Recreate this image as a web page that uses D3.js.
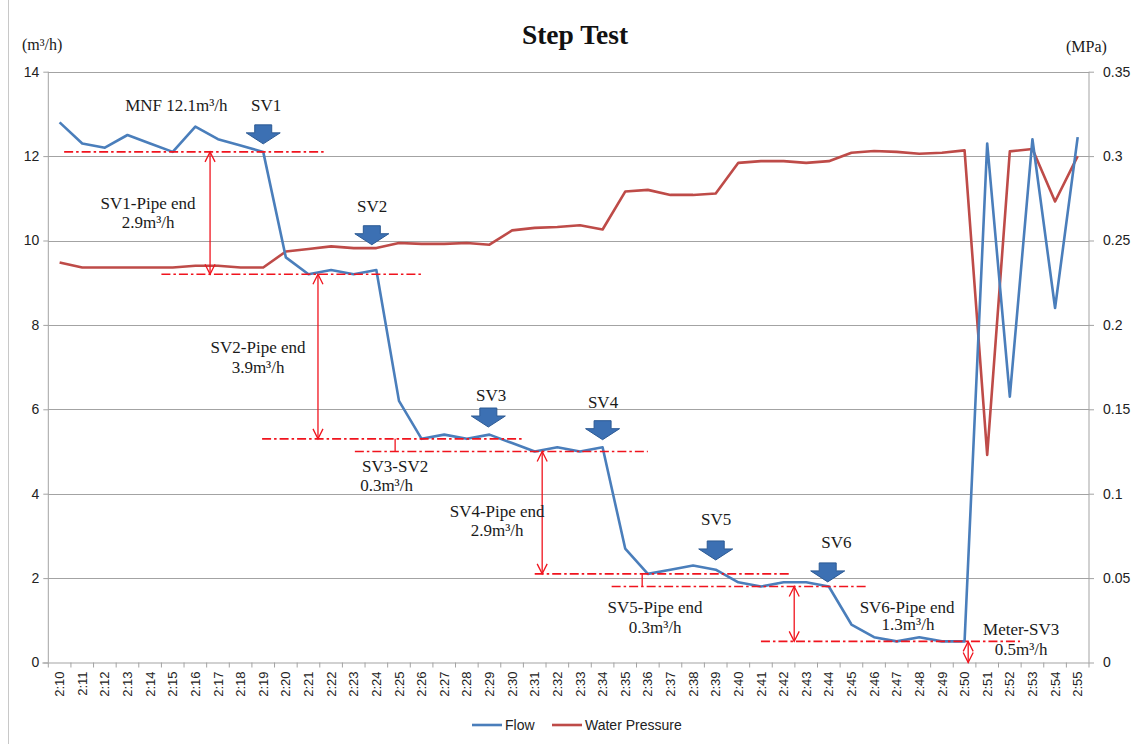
<!DOCTYPE html>
<html>
<head>
<meta charset="utf-8">
<script src="https://cdn.jsdelivr.net/npm/d3@7"></script>
<style>
  html, body { margin: 0; padding: 0; background: #fff; }
  svg { display: block; }
</style>
</head>
<body>
<svg id="chart" width="1134" height="744"></svg>
<script>
// Minute-by-minute readings of the step test
const categories = ["2:10","2:11","2:12","2:13","2:14","2:15","2:16","2:17","2:18","2:19",
  "2:20","2:21","2:22","2:23","2:24","2:25","2:26","2:27","2:28","2:29",
  "2:30","2:31","2:32","2:33","2:34","2:35","2:36","2:37","2:38","2:39",
  "2:40","2:41","2:42","2:43","2:44","2:45","2:46","2:47","2:48","2:49",
  "2:50","2:51","2:52","2:53","2:54","2:55"];

// Flow (m³/h)
const flow = [12.8,12.3,12.2,12.5,12.3,12.1,12.7,12.4,12.25,12.1,
  9.6,9.2,9.3,9.2,9.3,
  6.2,5.3,5.4,5.3,5.4,
  5.2,5.0,5.1,5.0,5.1,
  2.7,2.1,2.2,2.3,2.2,
  1.9,1.8,1.9,1.9,1.8,
  0.9,0.6,0.5,0.6,0.5,
  0.5,12.3,6.3,12.4,8.4,12.45];

// Water pressure (MPa)
const pressure = [0.237,0.234,0.234,0.234,0.234,0.234,0.235,0.235,0.234,0.234,
  0.2435,0.245,0.2465,0.2455,0.2455,
  0.2485,0.248,0.248,0.2485,0.2475,
  0.256,0.2575,0.258,0.259,0.2565,
  0.279,0.280,0.277,0.277,0.2778,
  0.296,0.297,0.297,0.296,0.297,
  0.302,0.303,0.3025,0.3014,0.302,
  0.3034,0.123,0.3028,0.3042,0.2731,0.300];

const flowTicks = [0,2,4,6,8,10,12,14];
const pressureTicks = [0,0.05,0.1,0.15,0.2,0.25,0.3,0.35];
const pressureTickLabels = ["0","0.05","0.1","0.15","0.2","0.25","0.3","0.35"];

// Flow levels after each valve is shut (dash-dot guides): value, category span
const levels = [
  {v: 12.1, from: 0.2,  to: 11.8},
  {v: 9.2,  from: 4.5,  to: 16.1},
  {v: 5.3,  from: 8.95, to: 20.5},
  {v: 5.0,  from: 13.05,to: 26.0},
  {v: 2.1,  from: 21.0, to: 32.25},
  {v: 1.8,  from: 24.4, to: 35.75},
  {v: 0.5,  from: 31.0, to: 42.45}
];

// Differences between levels: double arrows (heads) or plain ticks
const gaps = [
  {i: 6.65,  top: 12.1, bottom: 9.2, heads: true},
  {i: 11.42, top: 9.2,  bottom: 5.3, heads: true},
  {i: 14.83, top: 5.3,  bottom: 5.0, heads: false},
  {i: 21.33, top: 5.0,  bottom: 2.1, heads: true},
  {i: 25.75, top: 2.1,  bottom: 1.8, heads: false},
  {i: 32.47, top: 1.8,  bottom: 0.5, heads: true},
  {i: 40.16, top: 0.5,  bottom: 0.0, heads: true}
];

// Valve-closing markers: category position, flow value at arrow tip
const valves = [
  {i: 9.0,   tip: 12.29},
  {i: 13.8,  tip: 9.9},
  {i: 18.95, tip: 5.58},
  {i: 24.0,  tip: 5.28},
  {i: 29.0,  tip: 2.43},
  {i: 33.95, tip: 1.91}
];

// Text notes placed in the flow coordinate system (baseline value)
const notes = [
  {t: "MNF 12.1m³/h", i: 5.16, v: 13.07},
  {t: "SV1", i: 9.13, v: 13.07},
  {t: "SV1-Pipe end", i: 3.91, v: 10.75},
  {t: "2.9m³/h", i: 3.91, v: 10.30},
  {t: "SV2", i: 13.81, v: 10.68},
  {t: "SV2-Pipe end", i: 8.77, v: 7.34},
  {t: "3.9m³/h", i: 8.77, v: 6.87},
  {t: "SV3", i: 19.07, v: 6.20},
  {t: "SV4", i: 24.02, v: 6.03},
  {t: "SV3-SV2", i: 14.83, v: 4.52},
  {t: "0.3m³/h", i: 14.45, v: 4.07},
  {t: "SV4-Pipe end", i: 19.34, v: 3.45},
  {t: "2.9m³/h", i: 19.34, v: 3.00},
  {t: "SV5", i: 29.02, v: 3.26},
  {t: "SV6", i: 34.33, v: 2.71},
  {t: "SV5-Pipe end", i: 26.32, v: 1.17},
  {t: "0.3m³/h", i: 26.32, v: 0.70},
  {t: "SV6-Pipe end", i: 37.46, v: 1.17},
  {t: "1.3m³/h", i: 37.5, v: 0.77},
  {t: "Meter-SV3", i: 42.5, v: 0.65},
  {t: "0.5m³/h", i: 42.5, v: 0.18}
];

const W = 1134, H = 744;
const plot = {left: 48.3, right: 1089, top: 71.7, bottom: 662.5};

const FLOW_COLOR = "#4a7ebb";
const PRESSURE_COLOR = "#be4b48";
const GUIDE_COLOR = "#f0141e";
const GRID_COLOR = "#a3a3a3";
const SANS = "'Liberation Sans', Arial, sans-serif";
const SERIF = "'Liberation Serif', 'Times New Roman', serif";

const svg = d3.select("#chart");

const x = d3.scaleBand().domain(categories).range([plot.left, plot.right]).paddingInner(0).paddingOuter(0);
const step = x.step();
const xc = c => x(c) + step / 2;
const xi = i => x(categories[0]) + step / 2 + i * step;   // fractional category position
const yL = d3.scaleLinear().domain([0, 14]).range([plot.bottom, plot.top]);
const yR = d3.scaleLinear().domain([0, 0.35]).range([plot.bottom, plot.top]);

// thin frame line at the left edge
svg.append("line").attr("x1", 8.5).attr("x2", 8.5).attr("y1", 0).attr("y2", H)
  .attr("stroke", "#c8c8c8").attr("stroke-width", 1);

// Gridlines
svg.append("g").selectAll("line").data(flowTicks.filter(d => d > 0)).join("line")
  .attr("x1", plot.left).attr("x2", plot.right)
  .attr("y1", d => Math.round(yL(d)) + 0.5).attr("y2", d => Math.round(yL(d)) + 0.5)
  .attr("stroke", GRID_COLOR).attr("stroke-width", 1);

// Left axis
const gL = svg.append("g").attr("transform", `translate(${plot.left},0)`)
  .call(d3.axisLeft(yL).tickValues(flowTicks).tickSize(5).tickPadding(6).tickFormat(d3.format("d")));
gL.select(".domain").attr("stroke", GRID_COLOR).attr("d", `M0,${plot.bottom}V${plot.top}`);
gL.selectAll(".tick line").attr("stroke", GRID_COLOR);
gL.selectAll(".tick text").attr("font-family", SANS).attr("font-size", 14).attr("fill", "#222")
  .attr("x", -9);

// Right axis
const gR = svg.append("g").attr("transform", `translate(${plot.right},0)`)
  .call(d3.axisRight(yR).tickValues(pressureTicks).tickSize(5).tickPadding(9)
    .tickFormat((d, i) => pressureTickLabels[i]));
gR.select(".domain").attr("stroke", GRID_COLOR).attr("d", `M0,${plot.bottom}V${plot.top}`);
gR.selectAll(".tick line").attr("stroke", GRID_COLOR);
gR.selectAll(".tick text").attr("font-family", SANS).attr("font-size", 14).attr("fill", "#222");

// Bottom axis: ticks on category boundaries, rotated labels at centres
const gB = svg.append("g");
gB.append("line").attr("x1", plot.left - 6).attr("x2", plot.right)
  .attr("y1", plot.bottom + 0.5).attr("y2", plot.bottom + 0.5).attr("stroke", GRID_COLOR);
gB.selectAll("line.tk").data(categories.concat(["end"])).join("line").attr("class", "tk")
  .attr("x1", (d, i) => plot.left + i * step).attr("x2", (d, i) => plot.left + i * step)
  .attr("y1", plot.bottom).attr("y2", plot.bottom + 5).attr("stroke", GRID_COLOR);
gB.selectAll("text").data(categories).join("text")
  .attr("transform", d => `translate(${xc(d)},${plot.bottom + 9}) rotate(-90)`)
  .attr("text-anchor", "end").attr("dy", "0.35em")
  .attr("font-family", SANS).attr("font-size", 13).attr("fill", "#222")
  .text(d => d);

// Series lines
const lineFlow = d3.line().x((d, i) => xc(categories[i])).y(d => yL(d));
const linePressure = d3.line().x((d, i) => xc(categories[i])).y(d => yR(d));

svg.append("path").datum(pressure).attr("d", linePressure)
  .attr("fill", "none").attr("stroke", PRESSURE_COLOR).attr("stroke-width", 2.6)
  .attr("stroke-linejoin", "round");
svg.append("path").datum(flow).attr("d", lineFlow)
  .attr("fill", "none").attr("stroke", FLOW_COLOR).attr("stroke-width", 2.6)
  .attr("stroke-linejoin", "round");

// Dash-dot level guides
svg.append("g").selectAll("line").data(levels).join("line")
  .attr("x1", d => xi(d.from)).attr("x2", d => xi(d.to))
  .attr("y1", d => yL(d.v)).attr("y2", d => yL(d.v))
  .attr("stroke", GUIDE_COLOR).attr("stroke-width", 1.6)
  .attr("stroke-dasharray", "9,3,2.5,3");

// Difference arrows
const gGap = svg.append("g").attr("stroke", GUIDE_COLOR).attr("fill", "none").attr("stroke-width", 1.3);
gaps.forEach(g => {
  const gx = xi(g.i), y1 = yL(g.top), y2 = yL(g.bottom);
  gGap.append("line").attr("x1", gx).attr("x2", gx).attr("y1", y1).attr("y2", y2);
  if (g.heads) {
    gGap.append("path").attr("d", `M${gx - 5},${y1 + 10}L${gx},${y1}L${gx + 5},${y1 + 10}`);
    gGap.append("path").attr("d", `M${gx - 5},${y2 - 10}L${gx},${y2}L${gx + 5},${y2 - 10}`);
  }
});

// Valve-closing block arrows
const blockArrow = (cx, tip) => {
  const sw = 8.5, hw = 17, hh = 11, sh = 8;
  return `M${cx - sw},${tip - hh - sh}L${cx + sw},${tip - hh - sh}L${cx + sw},${tip - hh}` +
         `L${cx + hw},${tip - hh}L${cx},${tip}L${cx - hw},${tip - hh}L${cx - sw},${tip - hh}Z`;
};
svg.append("g").selectAll("path").data(valves).join("path")
  .attr("d", d => blockArrow(xi(d.i), yL(d.tip)))
  .attr("fill", "#3c70b3").attr("stroke", "#2c5a94").attr("stroke-width", 1);

// Notes
svg.append("g").selectAll("text").data(notes).join("text")
  .attr("x", d => xi(d.i)).attr("y", d => yL(d.v))
  .attr("text-anchor", "middle")
  .attr("font-family", SERIF).attr("font-size", 17).attr("fill", "#1a1a1a")
  .text(d => d.t);

// Title and axis units
svg.append("text").attr("x", 575).attr("y", 44).attr("text-anchor", "middle")
  .attr("font-family", SERIF).attr("font-size", 27.5).attr("font-weight", "bold").attr("fill", "#111")
  .text("Step Test");
svg.append("text").attr("x", 22).attr("y", 50)
  .attr("font-family", SERIF).attr("font-size", 16).attr("fill", "#1a1a1a").text("(m³/h)");
svg.append("text").attr("x", 1066).attr("y", 52)
  .attr("font-family", SERIF).attr("font-size", 16).attr("fill", "#1a1a1a").text("(MPa)");

// Legend
const legend = [
  {name: "Flow", color: FLOW_COLOR, x: 472},
  {name: "Water Pressure", color: PRESSURE_COLOR, x: 552}
];
const gLeg = svg.append("g");
legend.forEach(l => {
  gLeg.append("line").attr("x1", l.x).attr("x2", l.x + 30).attr("y1", 725).attr("y2", 725)
    .attr("stroke", l.color).attr("stroke-width", 2.6);
  gLeg.append("text").attr("x", l.x + 33).attr("y", 725).attr("dy", "0.35em")
    .attr("font-family", SANS).attr("font-size", 14).attr("fill", "#222").text(l.name);
});
</script>
</body>
</html>
